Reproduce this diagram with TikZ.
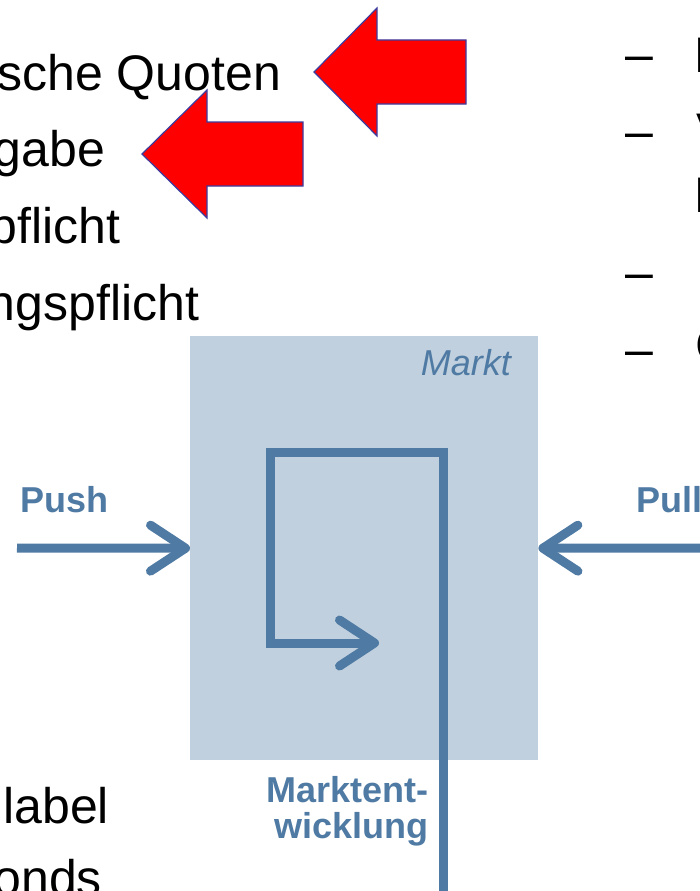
\documentclass[tikz,border=0pt]{standalone}
\usepackage{fontspec}
\setmainfont{Liberation Sans}
\usetikzlibrary{arrows.meta}
\definecolor{slate}{RGB}{79,122,163}
\definecolor{panel}{RGB}{192,208,222}
\definecolor{edgeblue}{RGB}{60,60,160}

\begin{document}
\begin{tikzpicture}[x=1pt,y=-1pt,
  bodytext/.style={font=\fontsize{50}{58}\selectfont, inner sep=0pt, outer sep=0pt, text=black},
  flowlabel/.style={font=\fontsize{36}{36}\selectfont\bfseries, text=slate, inner sep=0pt},
  flow/.style={draw=slate, line width=9pt, -{Straight Barb[length=35pt,width=46pt,round]}},
  redarrow/.style={fill=red, draw=edgeblue, line width=1.2pt, line join=miter}]
\useasboundingbox (0,0) rectangle (700,891);
\clip (0,0) rectangle (700,891);

% market panel
\node[fill=panel, minimum width=348pt, minimum height=424pt, inner sep=0pt,
      anchor=north west] (markt) at (190,336) {};
\node[font=\fontsize{36}{40}\selectfont\itshape, text=slate, inner sep=0pt,
      anchor=base east] (marktlabel) at (511,375) {Markt};

% left-hand list
\node[bodytext, anchor=base east] (l1) at (281,90) {sche Quoten};
\node[bodytext, anchor=base east] (l2) at (105,166) {gabe};
\node[bodytext, anchor=base east] (l3) at (120,243) {pflicht};
\node[bodytext, anchor=base east] (l4) at (199,320) {ngspflicht};
\node[bodytext, anchor=base east] (l5) at (109,823) {label};
\node[bodytext, anchor=base east] (l6) at (102,895) {onds};

% right-hand list
\node[bodytext, anchor=base west] (d1) at (625,71) {–};
\node[bodytext, anchor=base west] (d2) at (625,148) {–};
\node[bodytext, anchor=base west] (d3) at (625,289) {–};
\node[bodytext, anchor=base west] (d4) at (625,366) {–};
\node[bodytext, anchor=base west] (r1) at (694.5,72) {P};
\node[bodytext, anchor=base west] (r2) at (696.5,148) {V};
\node[bodytext, anchor=base west] (r3) at (694.5,212) {P};
\node[bodytext, anchor=base west] (r4) at (695.5,362) {C};

% red pointers
\draw[redarrow] (314,72) -- (377,8) -- (377,40) -- (466,40) -- (466,104)
  -- (377,104) -- (377,136) -- cycle;
\draw[redarrow] (142,154) -- (207,90) -- (207,122) -- (303,122) -- (303,186)
  -- (207,186) -- (207,218) -- cycle;

% push / pull
\node[flowlabel, anchor=base west] (push) at (20,512) {Push};
\node[flowlabel, anchor=base west] (pull) at (636,512) {Pull};
\coordinate (pushstart) at (17,548);
\coordinate (pullstart) at (710,548);
\draw[flow] (pushstart) -- (markt.west);
\draw[flow] (pullstart) -- (markt.east);

% market development loop
\coordinate (loopin) at (443,900);
\coordinate (loopend) at (379,643);
\draw[flow, line join=miter] (loopin) -- (443,452) -- (270,452) -- (270,643) -- (loopend);
\node[flowlabel, align=right, anchor=base east] (dev) at (429,838) {Marktent-\\wicklung};
\end{tikzpicture}
\end{document}
